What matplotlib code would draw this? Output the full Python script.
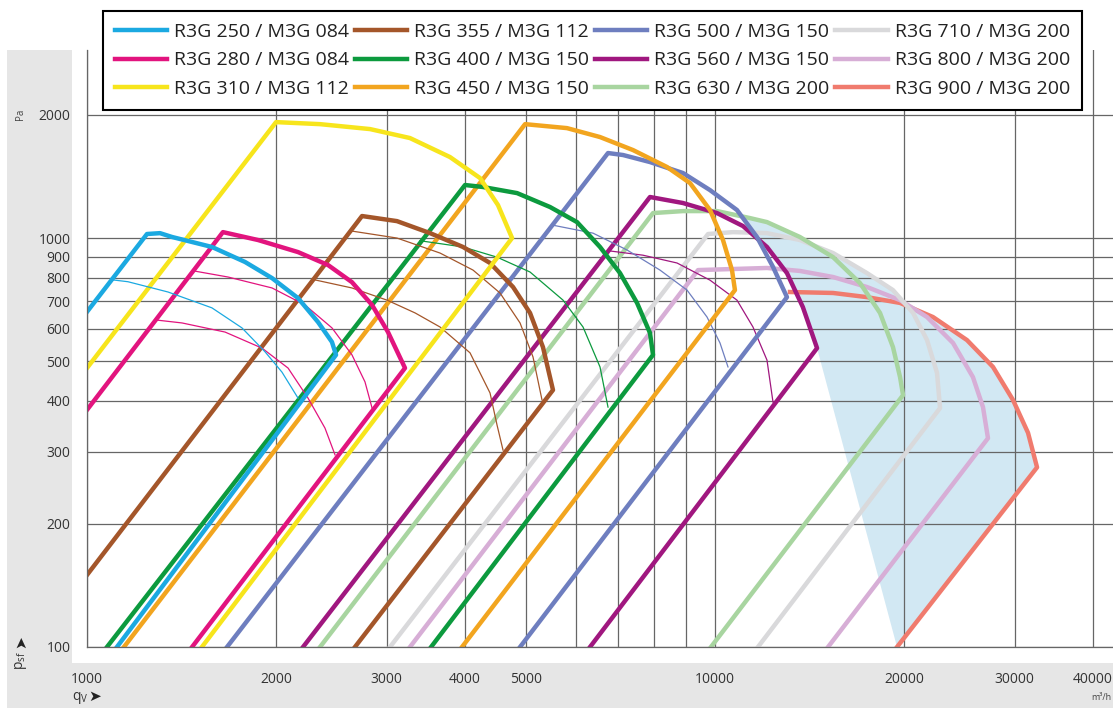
import matplotlib.pyplot as plt
from matplotlib.patches import Rectangle
from matplotlib.ticker import FixedFormatter, FixedLocator, NullLocator

# fan envelopes: bottom-left -> peak -> max-speed curve -> knee -> bottom-right
# q in m3/h, p in Pa
q_250 = [1000, 1246, 1307, 1366, 1581, 1785, 1971, 2168, 2333, 2455, 2492, 1116]
p_250 = [660, 1023, 1028, 1006, 951, 874, 798, 713, 623, 557, 518, 100]
slow_q_250 = [1100, 1162, 1346, 1581, 1765, 1921, 2044, 2168]
slow_p_250 = [790, 782, 738, 675, 603, 527, 470, 406]

q_280 = [1000, 1646, 1872, 2168, 2420, 2642, 2844, 3015, 3209, 1470]
p_280 = [380, 1034, 989, 924, 859, 780, 686, 589, 481, 100]
slow1_q_280 = [1486, 1677, 1971, 2224, 2455, 2642, 2771, 2844]
slow1_p_280 = [830, 803, 755, 686, 603, 518, 445, 384]
slow2_q_280 = [1293, 1417, 1659, 1900, 2090, 2249, 2393, 2483]
slow2_p_280 = [630, 620, 589, 538, 481, 406, 343, 295]

q_310 = [1000, 2000, 2350, 2823, 3268, 3784, 4225, 4513, 4752, 1524]
p_310 = [481, 1921, 1899, 1847, 1756, 1578, 1402, 1204, 1000, 100]

q_355 = [1000, 2741, 3116, 3518, 3970, 4383, 4769, 5075, 5322, 5521, 2671]
p_355 = [150, 1132, 1100, 1028, 951, 869, 759, 656, 541, 425, 100]
slow1_q_355 = [2642, 3116, 3649, 4118, 4546, 4893, 5131, 5303]
slow1_p_355 = [1040, 1000, 919, 835, 734, 620, 512, 402]
slow2_q_355 = [2307, 2642, 3004, 3330, 3649, 4073, 4383, 4497, 4597]
slow2_p_355 = [790, 755, 705, 656, 606, 524, 418, 349, 303]

q_400 = [1076, 3999, 4271, 4840, 5461, 6030, 6560, 7059, 7514, 7879, 7967, 3531]
p_400 = [100, 1348, 1333, 1288, 1191, 1094, 951, 821, 694, 586, 518, 100]
slow_q_400 = [3391, 3970, 4497, 5075, 5728, 6164, 6560, 6755]
slow_p_400 = [985, 951, 898, 826, 705, 606, 484, 386]

q_450 = [1145, 4984, 5812, 6560, 7405, 8386, 9124, 9818, 10297, 10643, 10759, 3955]
p_450 = [100, 1899, 1857, 1766, 1641, 1492, 1363, 1171, 989, 835, 746, 100]

q_500 = [1671, 6755, 7138, 7879, 8893, 9818, 10839, 11663, 12370, 13020, 4893]
p_500 = [100, 1614, 1596, 1534, 1442, 1310, 1171, 1006, 850, 717, 100]
slow_q_500 = [5521, 6394, 7243, 8173, 9025, 9712, 10185, 10488]
slow_p_500 = [1075, 1028, 935, 835, 746, 641, 554, 484]

q_560 = [2208, 7879, 8893, 10074, 11080, 12100, 13020, 13801, 14538, 6324]
p_560 = [100, 1260, 1218, 1151, 1070, 951, 821, 678, 538, 100]
slow_q_560 = [6800, 7679, 8700, 9818, 10839, 11494, 12100, 12370]
slow_p_560 = [930, 908, 869, 789, 705, 606, 503, 397]

q_630 = [2350, 7967, 8893, 10074, 11368, 12100, 13651, 15418, 17018, 18313,
         19206, 19710, 19929, 9854]
p_630 = [100, 1151, 1164, 1164, 1119, 1094, 1006, 898, 776, 656, 541, 457, 413, 100]

q_710 = [3037, 9748, 10682, 12100, 13651, 15418, 17458, 19206, 20674, 21760,
         22571, 22822, 11706]
p_710 = [100, 1023, 1034, 1028, 989, 919, 821, 746, 656, 563, 468, 384, 100]

q_800 = [3268, 9397, 12100, 13651, 15418, 17458, 19710, 21760, 23933, 25749,
         26715, 27208, 15136]
p_800 = [100, 835, 845, 831, 803, 759, 705, 641, 554, 457, 386, 324, 100]

q_900 = [13165, 15418, 17458, 19710, 22240, 25191, 27711, 29818, 31510, 32570, 19492]
p_900 = [738, 734, 717, 694, 641, 563, 484, 402, 334, 275, 100]

# shaded working range of the large fans
area_q = [10879, 11663, 12100, 13020, 13801, 14538, 19492, 32570, 31510, 29818,
          27711, 25191, 22240, 20674, 19710, 19206, 17458, 15418, 13651, 12100, 11368]
area_p = [1151, 1006, 951, 821, 678, 538, 100, 275, 334, 402, 484, 563, 641,
          678, 705, 746, 821, 919, 1006, 1094, 1119]

labels = ['R3G 250 / M3G 084', 'R3G 280 / M3G 084', 'R3G 310 / M3G 112',
          'R3G 355 / M3G 112', 'R3G 400 / M3G 150', 'R3G 450 / M3G 150',
          'R3G 500 / M3G 150', 'R3G 560 / M3G 150', 'R3G 630 / M3G 200',
          'R3G 710 / M3G 200', 'R3G 800 / M3G 200', 'R3G 900 / M3G 200']
colors = ['#1ba9e1', '#e2147e', '#f7e51c', '#a4562a', '#0c9a3e', '#f2a51f',
          '#6e7ebf', '#a0177f', '#a8d5a0', '#d9d9db', '#d7aed6', '#f07b6e']

x_ticks = [1000, 2000, 3000, 4000, 5000, 6000, 7000, 8000, 9000, 10000,
           20000, 30000, 40000]
x_tick_labels = ['1000', '2000', '3000', '4000', '5000', '', '', '', '',
                 '10000', '20000', '30000', '40000']
y_ticks = [100, 200, 300, 400, 500, 600, 700, 800, 900, 1000, 2000]
y_tick_labels = [str(v) for v in y_ticks]

plt.rcParams['font.family'] = ['Open Sans', 'DejaVu Sans']

W, H = 1113, 708
fig = plt.figure(figsize=(W / 100, H / 100), dpi=100)
fig.add_artist(Rectangle((7 / W, 0), 1 - 7 / W, 658 / H, transform=fig.transFigure,
                         facecolor='#e6e6e6', edgecolor='none', zorder=-2))
fig.add_artist(Rectangle((72 / W, 45 / H), 1 - 72 / W, 613 / H,
                         transform=fig.transFigure, facecolor='white',
                         edgecolor='none', zorder=-1))

ax = fig.add_axes([87 / W, 61 / H, 1026 / W, 597 / H])
ax.set_facecolor('none')
ax.set_xscale('log')
ax.set_yscale('log')
ax.set_xlim(1000, 43030)
ax.set_ylim(100, 2883)

grid_color = '#666666'
ax.xaxis.set_major_locator(FixedLocator(x_ticks))
ax.xaxis.set_major_formatter(FixedFormatter(x_tick_labels))
ax.xaxis.set_minor_locator(NullLocator())
ax.yaxis.set_major_locator(FixedLocator(y_ticks))
ax.yaxis.set_major_formatter(FixedFormatter(y_tick_labels))
ax.yaxis.set_minor_locator(NullLocator())
ax.tick_params(length=0, labelsize=10, labelcolor='#333333')
ax.tick_params(axis='x', pad=18)
ax.tick_params(axis='y', pad=12)
ax.grid(True, color=grid_color, lw=0.9)
ax.set_axisbelow(True)
for side in ('top', 'right'):
  ax.spines[side].set_visible(False)
for side in ('left', 'bottom'):
  ax.spines[side].set_color(grid_color)
  ax.spines[side].set_linewidth(0.9)

ax.fill(area_q, area_p, color='#d2e8f3', lw=0, zorder=0.2)

fans = [(q_250, p_250), (q_280, p_280), (q_310, p_310), (q_355, p_355),
        (q_400, p_400), (q_450, p_450), (q_500, p_500), (q_560, p_560),
        (q_630, p_630), (q_710, p_710), (q_800, p_800), (q_900, p_900)]
slow = {0: [(slow_q_250, slow_p_250)],
        1: [(slow1_q_280, slow1_p_280), (slow2_q_280, slow2_p_280)],
        3: [(slow1_q_355, slow1_p_355), (slow2_q_355, slow2_p_355)],
        4: [(slow_q_400, slow_p_400)],
        6: [(slow_q_500, slow_p_500)],
        7: [(slow_q_560, slow_p_560)]}

handles = [None] * len(fans)
for i in reversed(range(len(fans))):
  q, p = fans[i]
  for sq, sp in slow.get(i, []):
    ax.plot(sq, sp, color=colors[i], lw=0.9)
  handles[i], = ax.plot(q, p, color=colors[i], lw=3.2, label=labels[i],
                        solid_joinstyle='round')

leg = ax.legend(handles=handles, ncol=4, loc='upper left',
                bbox_to_anchor=(103 / W, 1 - 11 / H), bbox_transform=fig.transFigure,
                fontsize=14, fancybox=False, framealpha=1, edgecolor='black',
                borderpad=0.6, handlelength=2.7, handletextpad=0.35,
                columnspacing=0.3, labelspacing=0.55, borderaxespad=0)
leg.get_frame().set_linewidth(1.5)
for text in leg.get_texts():
  text.set_color('#222222')

fig.text(21 / W, 1 - 114 / H, 'Pa', rotation=90, fontsize=7, ha='center',
         va='center', color='#444444')
fig.text(21 / W, 1 - 660 / H, 'p$_\\mathregular{sf}$', rotation=90, fontsize=10,
         ha='center', va='center', color='#333333')
fig.text(21 / W, 1 - 642 / H, '➤', rotation=90, fontsize=11, ha='center',
         va='center', color='#222222', family='DejaVu Sans')
fig.text(72 / W, 1 - 698 / H, 'q$_\\mathregular{V}$', fontsize=10, ha='left',
         va='center', color='#333333')
fig.text(88 / W, 1 - 696 / H, '➤', fontsize=11, ha='left', va='center',
         color='#222222', family='DejaVu Sans')
fig.text(1111 / W, 1 - 698 / H, 'm³/h', fontsize=6.5, ha='right', va='center',
         color='#444444')

fig.savefig('out.png', dpi=100)
